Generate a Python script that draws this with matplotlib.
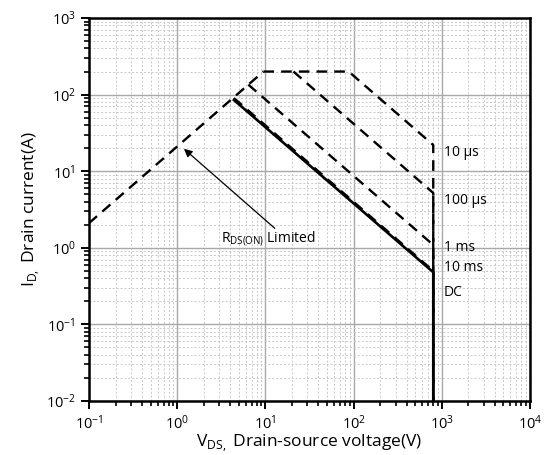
import numpy as np
import matplotlib
matplotlib.use("Agg")
import matplotlib.pyplot as plt
from matplotlib.ticker import LogLocator

plt.rcParams['font.family'] = ['Open Sans', 'DejaVu Sans']
plt.rcParams['mathtext.fontset'] = 'custom'
plt.rcParams['mathtext.rm'] = 'Open Sans'

# On-resistance limit (I = V / R)
rds_v = [0.1, 9.5]
rds_i = [2.1, 200.0]

# Pulse limits: (V, I) corner points
us10_v = [9.5, 88, 800, 800]
us10_i = [200, 200, 22, 0.01]
us100_v = [20.8, 800, 800]
us100_i = [200, 5.2, 0.01]
ms1_v = [6.4, 800, 800]
ms1_i = [135, 1.09, 0.01]
ms10_v = [4.4, 800, 800]
ms10_i = [90, 0.5, 0.01]
dc_v = [4.4, 800, 800]
dc_i = [85, 0.48, 0.01]

label_text = ['10 µs', '100 µs', '1 ms', '10 ms', 'DC']
label_y = [17.3, 4.2, 1.02, 0.56, 0.26]

fig = plt.figure(figsize=(5.51, 4.55), dpi=100)
ax = fig.add_axes([0.1615, 0.1187, 0.8004, 0.8417])
ax.set_xscale('log')
ax.set_yscale('log')
ax.set_xlim(0.1, 1e4)
ax.set_ylim(0.01, 1000)

dash = (0, (4.5, 3))
ax.plot(rds_v, rds_i, color='black', lw=1.7, linestyle=dash)
for v, i in [(us10_v, us10_i), (us100_v, us100_i), (ms1_v, ms1_i), (ms10_v, ms10_i)]:
    ax.plot(v, i, color='black', lw=1.7, linestyle=dash)
ax.plot(dc_v, dc_i, color='black', lw=1.9)

for t, y in zip(label_text, label_y):
    ax.text(1060, y, t, fontsize=10, va='center', ha='left')

ax.annotate('', xy=(1.13, 20.7), xytext=(13.5, 1.7),
            arrowprops=dict(arrowstyle='-|>', color='black', lw=0.9,
                            mutation_scale=12))
ax.text(3.1, 1.3, r'R$_\mathregular{DS(ON)}$ Limited', fontsize=10,
        ha='left', va='center')

ax.xaxis.set_major_locator(LogLocator(base=10, numticks=10))
ax.yaxis.set_major_locator(LogLocator(base=10, numticks=10))
ax.xaxis.set_minor_locator(LogLocator(base=10, subs=np.arange(2, 10), numticks=20))
ax.yaxis.set_minor_locator(LogLocator(base=10, subs=np.arange(2, 10), numticks=20))

ax.grid(which='major', color='#a8a8a8', lw=1.0, linestyle='-')
ax.grid(which='minor', color='#c8c8c8', lw=0.7, linestyle=(0, (2, 2)))
ax.set_axisbelow(True)

ax.tick_params(which='major', direction='out', length=6, width=1.4,
               labelsize=10.5, top=False, right=False)
ax.tick_params(which='minor', direction='out', length=3.5, width=1.2,
               top=False, right=False)
for s in ax.spines.values():
    s.set_linewidth(1.8)

ax.set_xlabel(r'V$_\mathregular{DS,}$ Drain-source voltage(V)', fontsize=12.5, labelpad=0)
ax.set_ylabel(r'I$_\mathregular{D,}$ Drain current(A)', fontsize=12.5, labelpad=3)

fig.savefig('out.png', dpi=100)
